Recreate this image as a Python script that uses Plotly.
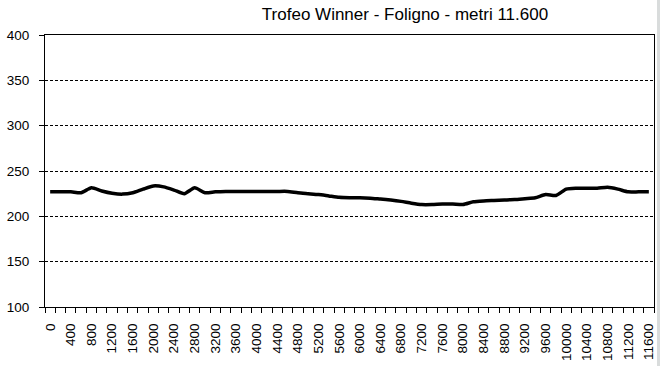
import plotly.graph_objects as go

distance_m = list(range(0, 11601, 200))
altitude_m = [
    227, 227, 227, 226, 231.5, 228, 225.5, 224.5, 226, 230,
    233.5, 232.5, 229, 225, 231.5, 226, 227, 227.5, 227.5, 227.5,
    227.5, 227.5, 227.5, 227.5, 226, 225, 224, 222.5, 221, 220.5,
    220.5, 220, 219, 218, 216.5, 214.5, 213, 213, 213.5, 213.5,
    213, 216, 217, 217.5, 218, 218.5, 219.5, 220.5, 224, 223,
    230, 231, 231, 231, 232, 230, 227, 227, 227,
]
tick_values = list(range(0, 11601, 400))
tick_labels = [str(v) for v in tick_values]
y_ticks = [100, 150, 200, 250, 300, 350, 400]
title_text = "Trofeo Winner - Foligno - metri 11.600"

W, H = 660, 366

fig = go.Figure()
fig.add_trace(go.Scatter(
    x=distance_m, y=altitude_m, mode="lines",
    line=dict(color="black", width=3.5, shape="spline", smoothing=0.6),
    hoverinfo="skip", showlegend=False,
))

font = dict(family="Liberation Sans, Arial, sans-serif", color="black")

fig.update_layout(
    template="none",
    width=W, height=H,
    margin=dict(l=45, r=6, t=35, b=59),
    paper_bgcolor="white", plot_bgcolor="white",
    font=dict(**font, size=13.5),
    title=dict(text=title_text, x=405/W, xanchor="center", y=1 - 14/H, yanchor="middle",
               font=dict(**font, size=17)),
    xaxis=dict(
        automargin=False,
        range=[-100, 11700],
        tickmode="array", tickvals=tick_values, ticktext=tick_labels,
        tickangle=-90, ticks="", ticklabelstandoff=10,
        tickfont=dict(**font, size=13.5),
        showgrid=False, zeroline=False,
        showline=True, linecolor="black", linewidth=1, mirror=True,
        minor=dict(tickmode="linear", tick0=-100, dtick=200, ticks="outside",
                   ticklen=5, tickcolor="black", tickwidth=1, showgrid=False),
    ),
    yaxis=dict(
        automargin=False,
        range=[100, 400], tickmode="array", tickvals=y_ticks,
        ticks="outside", ticklen=5, tickcolor="black", ticklabelstandoff=7,
        tickfont=dict(**font, size=13.5),
        showgrid=True, gridcolor="black", gridwidth=1, griddash="3px,2px",
        zeroline=False,
        showline=True, linecolor="black", linewidth=1, mirror=True,
    ),
    shapes=[dict(type="rect", xref="paper", yref="paper",
                 x0=(657-45)/609, x1=(661-45)/609, y0=-59/272, y1=1+35/272,
                 fillcolor="#d9dcdc", line=dict(width=0), layer="below")],
)

fig.write_html("out.html", config={"displayModeBar": False},
               post_script="document.body.style.margin='0';")
